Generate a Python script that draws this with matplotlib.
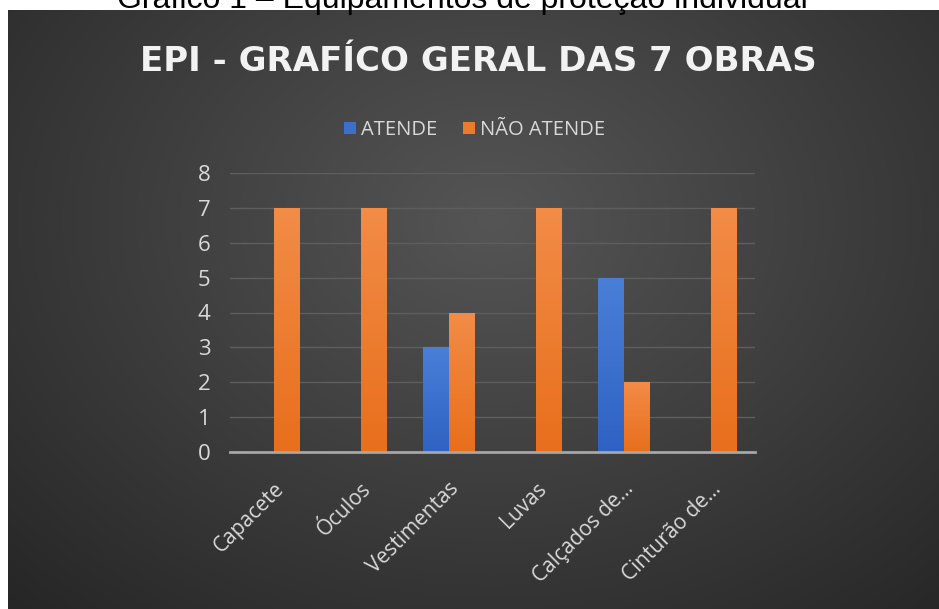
import matplotlib.pyplot as plt
import numpy as np
from matplotlib.colors import LinearSegmentedColormap

categorias = ["Capacete", "Óculos", "Vestimentas", "Luvas", "Calçados de...", "Cinturão de..."]
atende = [0, 0, 3, 0, 5, 0]
nao_atende = [7, 7, 4, 7, 2, 7]
series_names = ["ATENDE", "NÃO ATENDE"]
yticks = [0, 1, 2, 3, 4, 5, 6, 7, 8]

W, H = 939, 609
fig = plt.figure(figsize=(W / 100, H / 100), dpi=100)
fig.patch.set_facecolor("white")

# painel escuro com gradiente radial
bg = fig.add_axes([8 / W, 0, 1 - 8 / W, 599 / H], zorder=0)
yy, xx = np.mgrid[0:1:300j, 0:1:470j]
d = np.sqrt(((xx - 0.52) / 0.75) ** 2 + ((yy - 0.35) / 0.9) ** 2)
d = np.clip(d, 0, 1)
c0 = np.array([0x55, 0x55, 0x55]) / 255
c1 = np.array([0x26, 0x26, 0x26]) / 255
img = c0[None, None, :] * (1 - d[..., None]) + c1[None, None, :] * d[..., None]
bg.imshow(img, aspect="auto", extent=[0, 1, 1, 0])
bg.set_axis_off()

# legenda da figura (cortada no topo, como no original)
fig.text(462 / W, 1 - 8 / H, "Gráfico 1 – Equipamentos de proteção individual",
         family="Liberation Sans", fontsize=23, color="black", ha="center", va="baseline")

ax = fig.add_axes([229.75 / W, 157 / H, 525 / W, 279 / H], zorder=1)
ax.patch.set_alpha(0)

x = np.arange(len(categorias))
w = 0.286
b1 = ax.bar(x - w / 2, atende, w, color="#3d6fcc", label=series_names[0], zorder=3)
b2 = ax.bar(x + w / 2, nao_atende, w, color="#ee7a2b", label=series_names[1], zorder=3)

# gradiente leve nas barras (mais claro no topo)
grads = [(b1, ["#2f62c2", "#4a7fd8"]), (b2, ["#e86f1c", "#f28c47"])]
for bars, cols in grads:
    cmap = LinearSegmentedColormap.from_list("g", cols)
    for p in bars:
        if p.get_height() <= 0:
            continue
        x0, y0 = p.get_x(), p.get_y()
        im = ax.imshow(np.linspace(0, 1, 64).reshape(-1, 1), cmap=cmap, origin="lower",
                       extent=[x0, x0 + p.get_width(), y0, y0 + p.get_height()],
                       aspect="auto", zorder=3.5)
        im.set_clip_path(p)

ax.set_xlim(-0.5, len(categorias) - 0.5)
ax.set_ylim(0, 8)
ax.set_yticks(yticks)
ax.grid(axis="y", color="#5e5e5e", linewidth=1, zorder=1)
for s in ["top", "right", "left"]:
    ax.spines[s].set_visible(False)
ax.spines["bottom"].set_color("#a6a6a6")
ax.spines["bottom"].set_linewidth(2)
ax.spines["bottom"].set_zorder(4)

ax.set_xticks(x)
ax.set_xticklabels(categorias, rotation=45, ha="right", rotation_mode="anchor",
                   family="Open Sans", fontsize=15, color="#d9d9d9")
ax.tick_params(axis="x", length=0, pad=19)
ax.tick_params(axis="y", length=0, pad=14, labelcolor="#d9d9d9", labelsize=16)
for t in ax.get_yticklabels():
    t.set_family("Open Sans")

fig.text(478 / W, 1 - 61.5 / H, "EPI - GRAFÍCO GERAL DAS 7 OBRAS",
         family="DejaVu Sans", weight="bold", fontsize=24.5, color="#f2f2f2",
         ha="center", va="center")

leg = ax.legend(loc="center", bbox_to_anchor=(0.466, 1.154), ncol=2, frameon=False,
                handlelength=0.6, handleheight=0.6, handletextpad=0.25, columnspacing=1.3,
                prop={"family": "Open Sans", "size": 14.5})
for t in leg.get_texts():
    t.set_color("#d9d9d9")

fig.savefig("out.png", dpi=100)
